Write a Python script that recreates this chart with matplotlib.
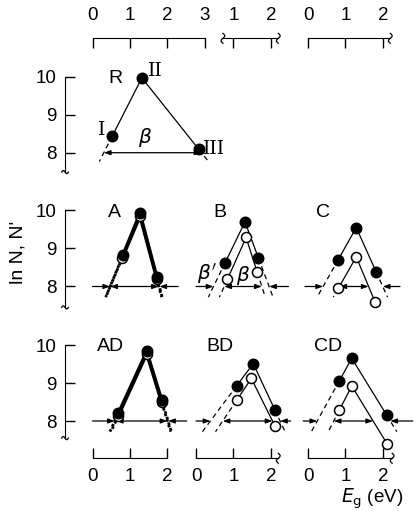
import matplotlib
matplotlib.use('Agg')
import matplotlib.pyplot as plt
import numpy as np

plt.rcParams['font.family'] = ['Liberation Sans Narrow', 'Liberation Sans', 'DejaVu Sans']
plt.rcParams['mathtext.fontset'] = 'dejavusans'

# ---- data: E_g (eV) and ln N for points I, II, III ----
# filled circles = N, open circles = N'
R_eg = [0.53, 1.32, 2.84]
R_ln = [8.44, 9.97, 8.09]

A_eg, A_ln = [0.82, 1.27, 1.72], [8.84, 9.93, 8.25]
A_eg_o, A_ln_o = [0.80, 1.27, 1.72], [8.76, 9.85, 8.20]
B_eg, B_ln = [0.78, 1.31, 1.67], [8.63, 9.70, 8.75]
B_eg_o, B_ln_o = [0.84, 1.34, 1.64], [8.19, 9.29, 8.37]
C_eg, C_ln = [0.81, 1.29, 1.82], [8.71, 9.55, 8.39]
C_eg_o, C_ln_o = [0.81, 1.29, 1.79], [7.95, 8.78, 7.60]

AD_eg, AD_ln = [0.69, 1.45, 1.85], [8.20, 9.83, 8.55]
AD_eg_o, AD_ln_o = [0.69, 1.45, 1.85], [8.14, 9.77, 8.49]
BD_eg, BD_ln = [1.09, 1.53, 2.11], [8.93, 9.51, 8.29]
BD_eg_o, BD_ln_o = [1.09, 1.48, 2.11], [8.55, 9.12, 7.87]
CD_eg, CD_ln = [0.84, 1.17, 2.10], [9.06, 9.65, 8.16]
CD_eg_o, CD_ln_o = [0.84, 1.17, 2.12], [8.29, 8.92, 7.39]

# ---- layout (pixels of the 417x511 picture) ----
W, H = 417.0, 511.0
X0 = [92.5, 196.0, 308.0]    # pixel of E_g = 0 in each column
Y8 = [152.7, 286.5, 421.0]   # pixel of ln N = 8 in each row
SX, SY = 37.4, 38.0
XL, YL = (-1.0, 3.6), (6.8, 11.2)
FS = 13.5

fig = plt.figure(figsize=(W / 100, H / 100), dpi=100)


def make_ax(col, row):
    l = X0[col] + XL[0] * SX
    r = X0[col] + XL[1] * SX
    t = Y8[row] - (YL[1] - 8) * SY
    b = Y8[row] + (8 - YL[0]) * SY
    ax = fig.add_axes([l / W, 1 - b / H, (r - l) / W, (b - t) / H])
    ax.set_xlim(XL)
    ax.set_ylim(YL)
    ax.patch.set_visible(False)
    for s in ax.spines.values():
        s.set_visible(False)
    ax.set_xticks([])
    ax.set_yticks([])
    return ax


def squiggle(ax, x, y, vertical=True):
    t = np.linspace(0, 2 * np.pi, 30)
    if vertical:
        ax.plot(x + 0.05 * np.sin(t), y + np.linspace(0.13, -0.13, 30), 'k-', lw=0.9, clip_on=False)
    else:
        ax.plot(x + np.linspace(-0.09, 0.09, 30), y + 0.04 * np.sin(t), 'k-', lw=0.9, clip_on=False)


def cross8(p, q):
    (x1, y1), (x2, y2) = p, q
    return x1 + (8 - y1) * (x2 - x1) / (y2 - y1)


def extension(ax, eg, ln, ls, lw, yend=7.72):
    pts = list(zip(eg, ln))
    for a, b in [(pts[0], pts[1]), (pts[2], pts[1])]:
        if a[1] > yend:
            xe = a[0] + (yend - a[1]) * (b[0] - a[0]) / (b[1] - a[1])
            ax.plot([a[0], xe], [a[1], yend], color='k', ls=ls, lw=lw)


def arrow(ax, x1, x2, style):
    ax.annotate('', xy=(x2, 8), xytext=(x1, 8),
                arrowprops=dict(arrowstyle=style + ',head_length=0.55,head_width=0.2',
                                color='k', lw=0.9, mutation_scale=7,
                                shrinkA=0, shrinkB=0))


def y_axis(ax, ybot):
    ax.spines['left'].set_visible(True)
    ax.spines['left'].set_position(('data', -0.735))
    ax.spines['left'].set_bounds(ybot, 10)
    ax.set_yticks([8, 9, 10])
    ax.tick_params(axis='y', direction='in', length=7, width=1, labelsize=FS, pad=6)
    squiggle(ax, -0.735, ybot, vertical=False)


def x_axis(ax, where, ypos, lo, hi, ticks, wavy_lo=False, wavy_hi=False):
    sp = ax.spines[where]
    sp.set_visible(True)
    sp.set_position(('data', ypos))
    sp.set_bounds(lo, hi)
    ax.set_xticks(ticks)
    if where == 'top':
        ax.xaxis.tick_top()
        pad = 10
    else:
        pad = 7
    ax.tick_params(axis='x', direction='in', length=7, width=1, labelsize=FS, pad=pad)
    if wavy_lo:
        squiggle(ax, lo, ypos)
    if wavy_hi:
        squiggle(ax, hi, ypos)


def panel(ax, label, lx, eg, ln, eg_o, ln_o, bold, span):
    lw = 2.4 if bold else 0.9
    ls = (0, (1, 1.1)) if bold else (0, (4, 3))
    elw = 2.0 if bold else 0.9
    ax.plot(eg_o, ln_o, 'k-', lw=lw)
    ax.plot(eg, ln, 'k-', lw=lw)
    extension(ax, eg, ln, ls, elw)
    extension(ax, eg_o, ln_o, ls, elw)
    ax.plot(eg_o, ln_o, 'o', ms=7.2, mfc='white', mec='k', mew=1.1, ls='none', zorder=4)
    ax.plot(eg, ln, 'o', ms=7.6, mfc='k', mec='k', ls='none', zorder=5)
    # gaps at ln N = 8
    f = list(zip(eg, ln))
    o = list(zip(eg_o, ln_o))
    fl, fr = cross8(f[0], f[1]), cross8(f[2], f[1])
    ol, orr = cross8(o[0], o[1]), cross8(o[2], o[1])
    arrow(ax, span[0], fl, '-|>')
    arrow(ax, span[1], fr, '-|>')
    arrow(ax, ol, orr, '<|-|>')
    ax.text(lx, 9.95, label, fontsize=FS + 0.5, ha='center', va='center')


# ---- row 1: reference R ----
axR = make_ax(0, 0)
axR.plot(R_eg, R_ln, 'k-', lw=0.9)
extension(axR, R_eg, R_ln, (0, (4, 3)), 0.9, yend=7.77)
axR.plot(R_eg, R_ln, 'o', ms=7.6, mfc='k', mec='k', ls='none', zorder=5)
pr = list(zip(R_eg, R_ln))
arrow(axR, cross8(pr[0], pr[1]), cross8(pr[2], pr[1]), '<|-|>')
axR.text(0.6, 9.95, 'R', fontsize=FS + 0.5, ha='center', va='center')
axR.text(1.4, 8.4, r'$\beta$', fontsize=FS + 1, ha='center', va='center')
for txt, x, y in [('I', 0.25, 8.6), ('II', 1.67, 10.16), ('III', 3.24, 8.1)]:
    axR.text(x, y, txt, fontsize=FS, family='DejaVu Serif', ha='center', va='center')
y_axis(axR, 7.49)
x_axis(axR, 'top', 11.01, 0, 3, [0, 1, 2, 3])

ax12 = make_ax(1, 0)
x_axis(ax12, 'top', 11.01, 0.72, 2.2, [1, 2], wavy_lo=True, wavy_hi=True)
ax13 = make_ax(2, 0)
x_axis(ax13, 'top', 11.01, 0, 2.2, [0, 1, 2], wavy_hi=True)

# ---- row 2 ----
axA = make_ax(0, 1)
panel(axA, 'A', 0.6, A_eg, A_ln, A_eg_o, A_ln_o, True, (0.0, 2.29))
y_axis(axA, 7.45)
axB = make_ax(1, 1)
panel(axB, 'B', 0.64, B_eg, B_ln, B_eg_o, B_ln_o, False, (0.0, 2.47))
axB.text(0.29, 8.33, r"$\beta'$", fontsize=FS + 1, ha='center', va='center')
axB.text(1.27, 8.28, r'$\beta$', fontsize=FS + 1, ha='center', va='center')
axC = make_ax(2, 1)
panel(axC, 'C', 0.41, C_eg, C_ln, C_eg_o, C_ln_o, False, (-0.08, 2.46))

# ---- row 3 ----
axAD = make_ax(0, 2)
panel(axAD, 'AD', 0.47, AD_eg, AD_ln, AD_eg_o, AD_ln_o, True, (0.0, 2.52))
y_axis(axAD, 7.55)
x_axis(axAD, 'bottom', 7.02, 0, 2, [0, 1, 2])
axBD = make_ax(1, 2)
panel(axBD, 'BD', 0.64, BD_eg, BD_ln, BD_eg_o, BD_ln_o, False, (0.0, 2.53))
x_axis(axBD, 'bottom', 7.02, 0, 2.2, [0, 1, 2], wavy_hi=True)
axCD = make_ax(2, 2)
panel(axCD, 'CD', 0.54, CD_eg, CD_ln, CD_eg_o, CD_ln_o, False, (-0.13, 2.8))
x_axis(axCD, 'bottom', 7.02, 0, 2.25, [0, 1, 2], wavy_hi=True)

fig.text(18 / W, 1 - 252 / H, "ln N, N'", rotation=90, fontsize=FS + 0.5, ha='center', va='center')
fig.text(372 / W, 1 - 499 / H, r'$E_{\rm g}$ (eV)', fontsize=FS, ha='center', va='center')

plt.savefig('out.png', dpi=100)
plt.close(fig)
